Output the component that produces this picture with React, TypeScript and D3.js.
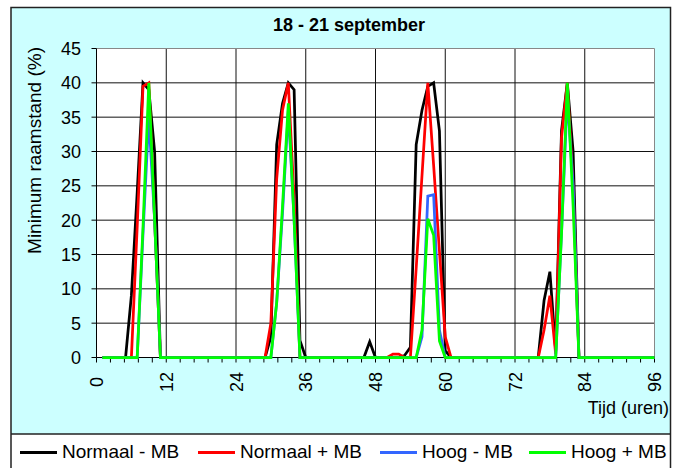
import React from "react";
import * as d3 from "d3";

const hours = [
  1, 2, 3, 4, 5, 6, 7, 8, 9, 10, 11, 12, 13, 14, 15, 16, 17, 18, 19, 20, 21, 22, 23, 24,
  25, 26, 27, 28, 29, 30, 31, 32, 33, 34, 35, 36, 37, 38, 39, 40, 41, 42, 43, 44, 45, 46, 47, 48,
  49, 50, 51, 52, 53, 54, 55, 56, 57, 58, 59, 60, 61, 62, 63, 64, 65, 66, 67, 68, 69, 70, 71, 72,
  73, 74, 75, 76, 77, 78, 79, 80, 81, 82, 83, 84, 85, 86, 87, 88, 89, 90, 91, 92, 93, 94, 95, 96,
];

// rows: hours 1..24, 25..48, 49..72, 73..96
const normaalMin = [
  0, 0, 0, 0, 0, 9, 24, 40, 39, 30, 0, 0, 0, 0, 0, 0, 0, 0, 0, 0, 0, 0, 0, 0,
  0, 0, 0, 0, 0, 3, 31, 37, 40, 39, 2.5, 0, 0, 0, 0, 0, 0, 0, 0, 0, 0, 0, 2.3, 0,
  0, 0, 0, 0, 0.3, 1.5, 31, 36, 39.5, 40, 33, 1, 0, 0, 0, 0, 0, 0, 0, 0, 0, 0, 0, 0,
  0, 0, 0, 0, 8.3, 12.5, 1, 33, 40, 30, 0, 0, 0, 0, 0, 0, 0, 0, 0, 0, 0, 0, 0, 0,
];
const normaalPlus = [
  0, 0, 0, 0, 0, 0, 19, 39.5, 40, 20, 0, 0, 0, 0, 0, 0, 0, 0, 0, 0, 0, 0, 0, 0,
  0, 0, 0, 0, 0, 5, 26, 36, 40, 23, 0, 0, 0, 0, 0, 0, 0, 0, 0, 0, 0, 0, 0, 0,
  0, 0, 0.5, 0.5, 0, 0, 13, 26.5, 40, 28, 15.5, 3, 0, 0, 0, 0, 0, 0, 0, 0, 0, 0, 0, 0,
  0, 0, 0, 0, 4, 9, 0.5, 32, 40, 25, 0, 0, 0, 0, 0, 0, 0, 0, 0, 0, 0, 0, 0, 0,
];
const hoogMin = [
  0, 0, 0, 0, 0, 0, 0, 18, 35, 20, 0, 0, 0, 0, 0, 0, 0, 0, 0, 0, 0, 0, 0, 0,
  0, 0, 0, 0, 0, 0, 8, 21, 36, 20, 0, 0, 0, 0, 0, 0, 0, 0, 0, 0, 0, 0, 0, 0,
  0, 0, 0, 0, 0, 0, 0, 3, 23.5, 23.7, 4, 0, 0, 0, 0, 0, 0, 0, 0, 0, 0, 0, 0, 0,
  0, 0, 0, 0, 0, 0, 0, 18, 38, 25, 0, 0, 0, 0, 0, 0, 0, 0, 0, 0, 0, 0, 0, 0,
];
const hoogPlus = [
  0, 0, 0, 0, 0, 0, 0, 19, 40, 20, 0, 0, 0, 0, 0, 0, 0, 0, 0, 0, 0, 0, 0, 0,
  0, 0, 0, 0, 0, 0, 8, 22, 37, 20, 0, 0, 0, 0, 0, 0, 0, 0, 0, 0, 0, 0, 0, 0,
  0, 0, 0, 0, 0, 0, 0, 4, 20.2, 17.8, 2.4, 0, 0, 0, 0, 0, 0, 0, 0, 0, 0, 0, 0, 0,
  0, 0, 0, 0, 0, 0, 0, 18, 40, 22, 0, 0, 0, 0, 0, 0, 0, 0, 0, 0, 0, 0, 0, 0,
];

const seriesNames = ["Normaal - MB", "Normaal + MB", "Hoog - MB", "Hoog + MB"];
const seriesValues = [normaalMin, normaalPlus, hoogMin, hoogPlus];
const seriesColors = ["#000000", "#ff0000", "#3366ff", "#00ff00"];

const xTicks = [0, 12, 24, 36, 48, 60, 72, 84, 96];
const xMinorStep = 2.4;
const yTicks = [0, 5, 10, 15, 20, 25, 30, 35, 40, 45];

const title = "18 - 21 september";
const yTitle = "Minimum raamstand (%)";
const xTitle = "Tijd (uren)";

const FONT = "'Liberation Sans', Arial, sans-serif";

export default function App() {
  const W = 685;
  const H = 468;
  const x = d3.scaleLinear().domain([0, 96]).range([96.5, 654.5]);
  const y = d3.scaleLinear().domain([0, 45]).range([357.5, 48.5]);
  const line = d3
    .line<number>()
    .x((_, i) => x(hours[i]))
    .y((d) => y(d));

  const minorTicks = d3.range(0, 96 + 0.001, xMinorStep);
  const legendX = [20, 198, 380, 529];

  return (
    <svg
      width={W}
      height={H}
      style={{ position: "absolute", left: 0, top: 0, background: "#fff" }}
      fontFamily={FONT}
    >
      {/* chart area */}
      <rect x={11} y={7.5} width={659.5} height={426.5} fill="#ccffff" />
      {/* legend area */}
      <rect x={11} y={434} width={659.5} height={40} fill="#ffffff" />
      <rect x={11} y={7.5} width={659.5} height={470} fill="none" stroke="#222" strokeWidth={1.5} />
      <line x1={11} x2={670.5} y1={434} y2={434} stroke="#222" strokeWidth={1.5} />

      {/* plot area */}
      <rect x={x(0)} y={y(45)} width={x(96) - x(0)} height={y(0) - y(45)} fill="#ffffff" />
      {yTicks.slice(1, -1).map((t) => (
        <line key={"gy" + t} x1={x(0)} x2={x(96)} y1={y(t)} y2={y(t)} stroke="#111" strokeWidth={1} />
      ))}
      {xTicks.slice(1, -1).map((t) => (
        <line key={"gx" + t} x1={x(t)} x2={x(t)} y1={y(0)} y2={y(45)} stroke="#111" strokeWidth={1} />
      ))}
      <line x1={x(0)} x2={x(96)} y1={y(45)} y2={y(45)} stroke="#888" strokeWidth={1} />
      <line x1={x(96)} x2={x(96)} y1={y(0)} y2={y(45)} stroke="#888" strokeWidth={1} />

      {/* axes */}
      <line x1={x(0)} x2={x(0)} y1={y(0)} y2={y(45)} stroke="#000" strokeWidth={1} />
      <line x1={x(0)} x2={x(96)} y1={y(0)} y2={y(0)} stroke="#000" strokeWidth={1} />
      {yTicks.map((t) => (
        <g key={"yt" + t}>
          <line x1={x(0) - 5} x2={x(0)} y1={y(t)} y2={y(t)} stroke="#000" />
          <text x={81} y={y(t)} dy="0.36em" textAnchor="end" fontSize={18} fill="#000">
            {t}
          </text>
        </g>
      ))}
      {minorTicks.map((t, i) => (
        <line key={"xt" + i} x1={x(t)} x2={x(t)} y1={y(0)} y2={y(0) + 5} stroke="#000" />
      ))}
      {xTicks.map((t) => (
        <text
          key={"xl" + t}
          transform={`translate(${x(t) + 6.5},${382}) rotate(-90)`}
          textAnchor="middle"
          fontSize={18}
          fill="#000"
        >
          {t}
        </text>
      ))}

      {/* series */}
      {seriesValues.map((vals, i) => (
        <path
          key={"s" + i}
          d={line(vals) || ""}
          fill="none"
          stroke={seriesColors[i]}
          strokeWidth={2.75}
        />
      ))}

      {/* titles */}
      <text x={349} y={31} textAnchor="middle" fontSize={18} fontWeight="bold" fill="#000">
        {title}
      </text>
      <text
        transform={`translate(41,47) rotate(-90)`}
        textAnchor="end"
        fontSize={19}
        fill="#000"
      >
        {yTitle}
      </text>
      <text x={669} y={414} textAnchor="end" fontSize={18} fill="#000">
        {xTitle}
      </text>

      {/* legend */}
      {seriesNames.map((name, i) => (
        <g key={"lg" + i}>
          <line
            x1={legendX[i]}
            x2={legendX[i] + 37}
            y1={452.5}
            y2={452.5}
            stroke={seriesColors[i]}
            strokeWidth={3}
          />
          <text x={legendX[i] + 42} y={458} fontSize={19} fill="#000">
            {name}
          </text>
        </g>
      ))}
    </svg>
  );
}
